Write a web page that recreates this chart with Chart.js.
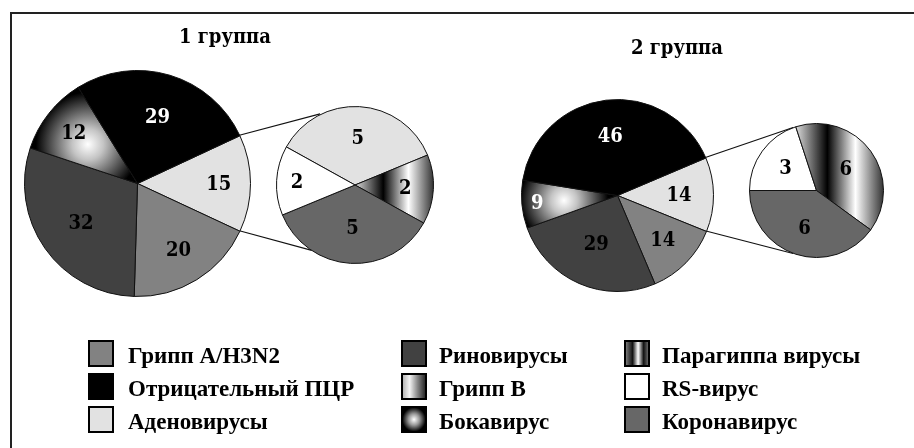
<!DOCTYPE html>
<html lang="ru">
<head>
<meta charset="utf-8">
<script src="https://cdn.jsdelivr.net/npm/chart.js@4.4.1/dist/chart.umd.min.js"></script>
<style>
  html, body { margin: 0; background: #fff; }
  #stage { position: relative; width: 914px; height: 448px; overflow: hidden; font-family: "Liberation Serif", serif; }
  .frame { position: absolute; left: 10px; top: 12px; width: 940px; height: 460px; border-top: 2px solid #222; border-left: 2px solid #222; }
  .pie { position: absolute; }
  #joins { position: absolute; left: 0; top: 0; }
  .title { position: absolute; width: 200px; text-align: center; font-family: "DejaVu Serif Condensed", "DejaVu Serif", serif; font-weight: bold; font-size: 20px; line-height: 20px; }
  .key { position: absolute; height: 27px; }
  .key .box { position: absolute; left: 0; top: 0; width: 26px; height: 27px; box-sizing: border-box; border: 2px solid #000; }
  .key .txt { position: absolute; white-space: nowrap; font-weight: bold; font-size: 23px; line-height: 23px; }
</style>
</head>
<body>
<div id="stage">
  <div class="frame"></div>
  <canvas id="joins" width="914" height="448"></canvas>
  <div class="title" style="left:125px; top:26px;">1 группа</div>
  <div class="title" style="left:577px; top:37px;">2 группа</div>
  <div class="pie" id="p1"><canvas></canvas></div>
  <div class="pie" id="p1s"><canvas></canvas></div>
  <div class="pie" id="p2"><canvas></canvas></div>
  <div class="pie" id="p2s"><canvas></canvas></div>
  <div id="legend"></div>
</div>
<script>
// categories, in legend order
const categories = ['Грипп A/H3N2', 'Отрицательный ПЦР', 'Аденовирусы', 'Риновирусы', 'Грипп B',
  'Бокавирус', 'Парагиппа вирусы', 'RS-вирус', 'Коронавирус'];

// 1 группа
const group1Labels = ['Аденовирусы', 'Грипп A/H3N2', 'Риновирусы', 'Грипп B', 'Отрицательный ПЦР'];
const group1Values = [15, 20, 32, 12, 29];
const group1SubLabels = ['Аденовирусы', 'Парагиппа вирусы', 'Коронавирус', 'RS-вирус'];
const group1SubValues = [5, 2, 5, 2];

// 2 группа
const group2Labels = ['Аденовирусы', 'Грипп A/H3N2', 'Риновирусы', 'Бокавирус', 'Отрицательный ПЦР'];
const group2Values = [14, 14, 29, 9, 46];
const group2SubLabels = ['RS-вирус', 'Парагиппа вирусы', 'Коронавирус'];
const group2SubValues = [3, 6, 6];

// fills: plain greys or a named gradient
const fills = {
  'Грипп A/H3N2': '#828282',
  'Отрицательный ПЦР': '#000000',
  'Аденовирусы': '#e2e2e2',
  'Риновирусы': '#414141',
  'Грипп B': 'burst',
  'Бокавирус': 'burst',
  'Парагиппа вирусы': 'stripes',
  'RS-вирус': '#ffffff',
  'Коронавирус': '#676767'
};
const keyFills = {
  'Грипп B': 'linear-gradient(90deg, #b8b8b8, #f4f4f4 30%, #8a8a8a 65%, #2a2a2a)',
  'Бокавирус': 'radial-gradient(ellipse at center, #fff 0%, #999 35%, #000 75%)',
  'Парагиппа вирусы': 'linear-gradient(90deg, #777, #111 30%, #fff 55%, #111 80%, #666)'
};
const whiteText = ['Отрицательный ПЦР', 'Бокавирус'];

const BORDER = 1;

function sliceGeometry(c, rotation) {
  const area = c.chart.chartArea;
  const vals = c.dataset.data;
  const total = vals.reduce((s, v) => s + v, 0);
  let a0 = (rotation - 90) * Math.PI / 180;
  for (let i = 0; i < c.dataIndex; i++) a0 += vals[i] / total * 2 * Math.PI;
  const a1 = a0 + vals[c.dataIndex] / total * 2 * Math.PI;
  return {
    x: (area.left + area.right) / 2,
    y: (area.top + area.bottom) / 2,
    r: (Math.min(area.right - area.left, area.bottom - area.top) - BORDER) / 2,
    a0, a1
  };
}

function sliceFill(c, rotation) {
  if (c.dataIndex === undefined) return '#888';
  const fill = fills[c.chart.data.labels[c.dataIndex]];
  if (fill[0] === '#') return fill;
  if (!c.chart.chartArea) return '#888';
  const g = sliceGeometry(c, rotation);
  const ctx = c.chart.ctx;
  if (fill === 'burst') {
    const mid = (g.a0 + g.a1) / 2;
    const px = g.x + Math.cos(mid) * g.r * 0.56;
    const py = g.y + Math.sin(mid) * g.r * 0.56;
    const grad = ctx.createRadialGradient(px, py, 0, px, py, g.r * 0.46);
    grad.addColorStop(0, '#ffffff');
    grad.addColorStop(0.3, '#c4c4c4');
    grad.addColorStop(1, '#000000');
    return grad;
  }
  // vertical stripes across the slice's horizontal extent
  const x0 = Math.min(g.x, g.x + Math.cos(g.a0) * g.r, g.x + Math.cos(g.a1) * g.r);
  const grad = ctx.createLinearGradient(x0, 0, g.x + g.r, 0);
  grad.addColorStop(0, '#dcdcdc');
  grad.addColorStop(0.36, '#000000');
  grad.addColorStop(0.68, '#ffffff');
  grad.addColorStop(1, '#333333');
  return grad;
}

// slice numbers
const valueLabels = {
  id: 'valueLabels',
  afterDatasetsDraw(chart, args, opts) {
    const ctx = chart.ctx;
    const ds = chart.data.datasets[0];
    ctx.save();
    ctx.font = 'bold 20px "DejaVu Serif Condensed", "DejaVu Serif"';
    ctx.textAlign = 'center';
    ctx.textBaseline = 'middle';
    chart.getDatasetMeta(0).data.forEach((arc, i) => {
      const mid = (arc.startAngle + arc.endAngle) / 2;
      const f = opts.radius[i];
      ctx.fillStyle = whiteText.includes(chart.data.labels[i]) ? '#fff' : '#000';
      ctx.fillText(ds.data[i], arc.x + Math.cos(mid) * arc.outerRadius * f,
        arc.y + Math.sin(mid) * arc.outerRadius * f + 1);
    });
    ctx.restore();
  }
};

function drawPie(id, cx, cy, r, labels, values, rotation, labelRadius) {
  const box = document.getElementById(id);
  const size = 2 * r + BORDER;
  box.style.left = (cx - size / 2) + 'px';
  box.style.top = (cy - size / 2) + 'px';
  box.style.width = size + 'px';
  box.style.height = size + 'px';
  const chart = new Chart(box.querySelector('canvas'), {
    type: 'pie',
    data: {
      labels: labels,
      datasets: [{
        data: values,
        backgroundColor: c => sliceFill(c, rotation),
        borderColor: '#111',
        borderWidth: BORDER
      }]
    },
    options: {
      responsive: true,
      maintainAspectRatio: false,
      animation: false,
      events: [],
      rotation: rotation,
      plugins: {
        legend: { display: false },
        tooltip: { enabled: false },
        valueLabels: { radius: labelRadius }
      }
    },
    plugins: [valueLabels]
  });
  chart.offset = { x: cx - size / 2, y: cy - size / 2 };
  return chart;
}

const pie1 = drawPie('p1', 137, 183, 113, group1Labels, group1Values, 65, [0.72, 0.69, 0.61, 0.72, 0.62]);
const pie1s = drawPie('p1s', 354.5, 184.5, 78.5, group1SubLabels, group1SubValues, -61, [0.6, 0.64, 0.55, 0.74]);
const pie2 = drawPie('p2', 617, 195, 96, group2Labels, group2Values, 67, [0.64, 0.66, 0.55, 0.84, 0.63]);
const pie2s = drawPie('p2s', 816, 190.5, 67, group2SubLabels, group2SubValues, 270, [0.57, 0.54, 0.58]);

// lines from the split slice to the secondary pie
function joinPies(big, small, angles) {
  const ctx = document.getElementById('joins').getContext('2d');
  const arc = big.getDatasetMeta(0).data[0];
  const sub = small.getDatasetMeta(0).data[0];
  const sx = small.offset.x + sub.x, sy = small.offset.y + sub.y;
  ctx.strokeStyle = '#111';
  ctx.lineWidth = 1.2;
  [arc.startAngle, arc.endAngle].forEach((a, i) => {
    const t = angles[i] * Math.PI / 180;
    ctx.beginPath();
    ctx.moveTo(big.offset.x + arc.x + Math.cos(a) * arc.outerRadius, big.offset.y + arc.y + Math.sin(a) * arc.outerRadius);
    ctx.lineTo(sx + Math.cos(t) * sub.outerRadius, sy + Math.sin(t) * sub.outerRadius);
    ctx.stroke();
  });
}
joinPies(pie1, pie1s, [-116, 123]);
joinPies(pie2, pie2s, [-110, 110]);

// legend, three columns of three
const keyCols = [88, 401, 624];
const keyTextGap = [40, 38, 38];
const keyRows = [340, 373, 406];
const legend = document.getElementById('legend');
categories.forEach((name, i) => {
  const col = Math.floor(i / 3), row = i % 3;
  const item = document.createElement('div');
  item.className = 'key';
  item.style.left = keyCols[col] + 'px';
  item.style.top = keyRows[row] + 'px';
  const sw = document.createElement('div');
  sw.className = 'box';
  sw.style.background = keyFills[name] || fills[name];
  const txt = document.createElement('div');
  txt.className = 'txt';
  txt.style.left = keyTextGap[col] + 'px';
  txt.style.top = '4px';
  txt.textContent = name;
  item.appendChild(sw);
  item.appendChild(txt);
  legend.appendChild(item);
});
</script>
</body>
</html>
